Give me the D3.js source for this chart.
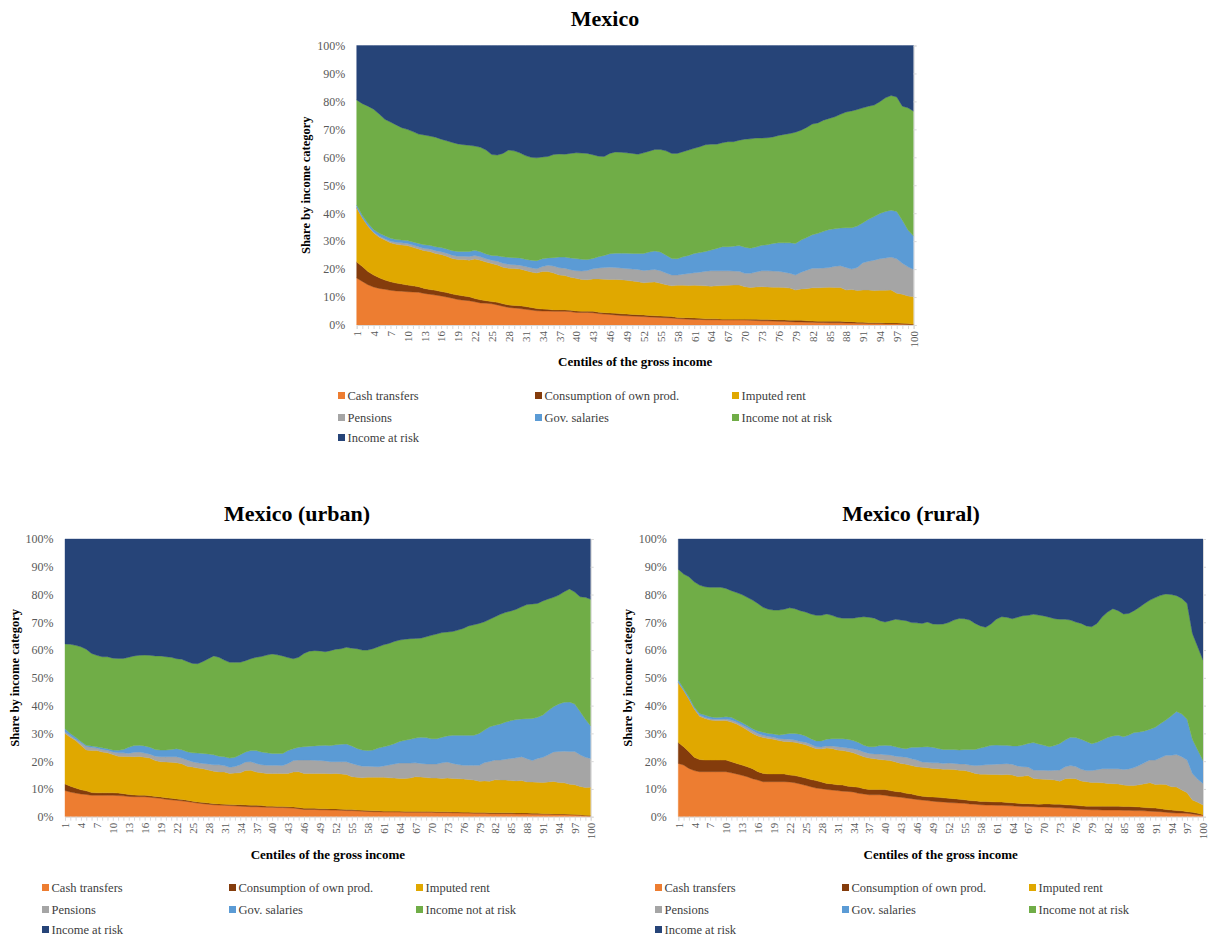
<!DOCTYPE html>
<html><head><meta charset="utf-8">
<script src="https://cdn.jsdelivr.net/npm/d3@7"></script>
<style>
body{margin:0;background:#fff;}
svg text{font-family:"Liberation Serif","Times New Roman",serif;}
</style></head><body>
<svg id="chart" width="1217" height="939"></svg>
<script>
// ---------- categories / labels ----------
const centiles = d3.range(1, 101);
const tickLabelCentiles = centiles.filter(c => (c - 1) % 3 === 0);
const seriesNames = ["Cash transfers","Consumption of own prod.","Imputed rent","Pensions","Gov. salaries","Income not at risk","Income at risk"];
const seriesKeys = ["cash","ownProd","rent","pensions","govSal","notAtRisk","atRisk"];
const yTickValues = [0,0.1,0.2,0.3,0.4,0.5,0.6,0.7,0.8,0.9,1];
const chartTitles = ["Mexico","Mexico (urban)","Mexico (rural)"];

// ---------- Mexico (national) ----------
const mxCash = [16.8,15.6,14.4,13.6,13.1,12.8,12.4,12.2,12.1,11.9,11.8,11.7,11.3,11.0,10.7,10.4,10.0,9.6,9.1,8.9,8.7,8.3,7.9,7.8,7.6,7.2,6.7,6.3,6.1,5.9,5.6,5.4,5.1,5.0,5.0,4.9,4.9,4.9,4.8,4.5,4.5,4.5,4.4,4.1,3.9,3.8,3.6,3.4,3.3,3.2,3.1,3.0,2.9,2.8,2.7,2.6,2.5,2.3,2.2,2.1,2.0,2.0,1.9,1.9,1.9,1.8,1.8,1.8,1.8,1.8,1.7,1.6,1.5,1.5,1.4,1.3,1.3,1.2,1.1,1.1,1.0,1.0,0.9,0.9,0.8,0.8,0.8,0.7,0.7,0.6,0.6,0.5,0.5,0.5,0.4,0.4,0.4,0.3,0.2,0.1];
const mxOwnProd = [5.7,5.3,4.7,4.3,3.8,3.3,3.1,2.8,2.6,2.4,2.2,2.0,1.8,1.7,1.7,1.6,1.6,1.5,1.6,1.5,1.4,1.2,1.1,0.9,0.8,0.9,0.9,0.9,0.9,1.0,1.0,0.9,0.8,0.7,0.6,0.5,0.5,0.5,0.5,0.5,0.4,0.4,0.5,0.5,0.5,0.5,0.6,0.6,0.6,0.6,0.6,0.6,0.5,0.5,0.5,0.5,0.5,0.4,0.4,0.5,0.5,0.4,0.3,0.3,0.3,0.3,0.3,0.3,0.3,0.3,0.4,0.5,0.5,0.5,0.5,0.5,0.5,0.5,0.6,0.6,0.5,0.4,0.4,0.4,0.5,0.5,0.5,0.5,0.5,0.4,0.4,0.3,0.3,0.3,0.3,0.3,0.3,0.3,0.3,0.2];
const mxRent = [19.4,17.4,16.2,15.1,14.5,14.3,13.9,13.9,13.9,14.1,13.8,13.5,13.5,13.6,13.2,13.2,13.0,12.7,12.7,13.0,13.1,14.1,14.2,13.8,13.6,13.4,13.1,13.1,13.2,13.1,12.9,12.7,12.7,13.4,13.5,13.2,12.5,12.3,11.8,11.7,11.4,11.3,11.6,11.9,12.0,12.0,12.1,12.2,12.1,11.9,11.8,11.5,11.9,12.1,11.7,11.3,11.0,11.5,11.6,11.5,11.7,11.7,11.8,11.7,11.8,12.0,12.1,12.2,12.2,11.6,11.3,11.5,11.7,11.6,11.6,11.7,11.6,11.5,10.8,11.2,11.5,11.9,12.0,12.1,12.2,12.1,12.1,11.3,11.5,11.3,11.5,11.7,11.5,11.6,11.7,11.8,10.7,10.4,9.9,9.8];
const mxPensions = [0.2,0.2,0.3,0.3,0.4,0.5,0.6,0.7,0.8,0.8,0.8,0.8,0.8,0.9,1.0,1.0,1.1,1.2,1.2,1.2,1.3,1.3,1.2,1.2,1.2,1.3,1.4,1.4,1.4,1.4,1.4,1.5,1.5,1.8,2.3,2.5,2.6,2.6,2.7,2.7,3.0,3.3,3.6,3.9,4.2,4.4,4.3,4.2,4.2,4.3,4.4,4.4,4.4,4.5,4.5,4.2,3.9,3.7,4.0,4.3,4.5,4.8,5.2,5.5,5.4,5.3,5.2,5.0,4.9,4.8,5.1,5.4,5.7,5.8,5.8,5.7,5.5,5.3,5.4,6.0,6.6,7.0,7.0,7.0,7.1,7.6,7.8,8.1,7.3,8.3,9.8,10.3,10.9,11.3,11.6,11.8,12.3,11.1,10.4,9.8];
const mxGovSal = [0.8,0.8,0.8,0.9,1.0,1.0,1.0,1.0,1.0,1.0,1.1,1.2,1.3,1.3,1.4,1.5,1.5,1.6,1.7,1.7,1.8,1.8,1.8,1.7,1.7,2.0,2.3,2.5,2.5,2.6,2.6,2.7,2.9,2.8,2.6,3.0,3.8,4.0,4.2,4.4,4.2,3.9,3.7,4.0,4.3,4.8,5.1,5.3,5.5,5.6,5.7,6.1,6.4,6.6,6.7,6.4,5.9,5.8,6.2,6.5,6.9,7.0,7.1,7.4,8.0,8.6,8.6,8.9,9.2,9.3,9.0,8.9,9.1,9.3,9.9,10.2,10.5,10.9,11.3,11.5,11.7,12.0,12.5,13.1,13.6,13.4,13.5,14.2,14.8,14.8,14.3,15.0,15.6,16.2,16.6,16.8,16.9,15.4,13.2,11.9];
const mxNotAtRisk = [37.6,39.9,41.9,43.0,42.7,41.7,41.6,41.0,40.2,39.8,39.5,39.1,39.3,39.1,39.2,38.8,38.7,38.7,38.5,38.2,38.0,37.3,37.4,37.2,36.1,36.0,37.0,38.4,38.2,37.6,37.1,36.8,36.8,36.4,36.3,36.9,36.9,36.8,37.4,37.8,38.0,38.0,37.1,36.0,35.4,35.9,36.2,36.1,35.9,35.8,35.5,36.0,36.1,36.3,36.7,37.3,37.6,37.7,37.6,37.7,37.6,37.9,38.2,37.9,37.3,37.2,37.6,37.4,37.7,38.7,39.1,39.0,38.4,38.3,38.1,38.4,38.8,39.1,39.8,39.3,39.4,39.6,39.5,39.8,39.7,40.1,40.7,41.4,41.8,41.7,41.1,40.5,39.9,40.0,40.7,41.0,41.0,40.8,43.7,44.7];
const mxAtRisk = [19.5,20.8,21.7,22.8,24.5,26.4,27.4,28.4,29.4,30.0,30.8,31.7,32.0,32.4,32.8,33.5,34.1,34.7,35.2,35.5,35.7,36.0,36.4,37.4,39.0,39.2,38.6,37.4,37.7,38.4,39.4,40.0,40.2,39.9,39.7,39.0,38.8,38.9,38.6,38.4,38.5,38.6,39.1,39.6,39.7,38.6,38.1,38.2,38.4,38.6,38.9,38.4,37.8,37.2,37.2,37.7,38.6,38.6,38.0,37.4,36.8,36.2,35.5,35.3,35.3,34.8,34.4,34.4,33.9,33.5,33.4,33.1,33.1,33.0,32.7,32.2,31.8,31.5,31.0,30.3,29.3,28.1,27.7,26.7,26.1,25.5,24.6,23.8,23.4,22.9,22.3,21.7,21.3,20.1,18.7,17.9,18.4,21.7,22.3,23.5];

// ---------- Mexico (urban) ----------
const urCash = [9.4,8.9,8.5,8.2,8.0,7.7,7.7,7.7,7.7,7.7,7.6,7.5,7.3,7.2,7.2,7.2,7.0,6.8,6.6,6.3,6.1,5.9,5.7,5.5,5.2,4.9,4.7,4.5,4.3,4.2,4.1,4.0,3.9,3.8,3.7,3.6,3.6,3.5,3.4,3.4,3.3,3.3,3.2,3.1,2.9,2.6,2.6,2.6,2.5,2.5,2.4,2.4,2.3,2.2,2.2,2.1,2.0,1.9,1.8,1.8,1.7,1.7,1.7,1.7,1.6,1.6,1.6,1.6,1.6,1.6,1.5,1.5,1.5,1.4,1.4,1.3,1.3,1.2,1.2,1.2,1.1,1.1,1.1,1.1,1.1,1.0,1.0,1.0,0.9,0.9,0.9,0.9,0.8,0.8,0.8,0.7,0.6,0.5,0.3,0.2];
const urOwnProd = [2.4,2.1,1.8,1.5,1.3,1.0,0.9,0.9,0.9,0.9,0.9,0.8,0.7,0.6,0.5,0.5,0.5,0.5,0.5,0.5,0.5,0.5,0.5,0.4,0.4,0.4,0.4,0.4,0.4,0.4,0.4,0.4,0.4,0.5,0.5,0.5,0.5,0.5,0.4,0.4,0.4,0.4,0.4,0.4,0.4,0.4,0.4,0.4,0.4,0.4,0.4,0.4,0.4,0.4,0.4,0.3,0.3,0.3,0.3,0.3,0.3,0.3,0.3,0.3,0.3,0.3,0.3,0.3,0.3,0.3,0.3,0.3,0.3,0.3,0.3,0.3,0.3,0.3,0.3,0.3,0.3,0.3,0.3,0.3,0.3,0.3,0.3,0.3,0.3,0.3,0.2,0.2,0.2,0.2,0.2,0.2,0.2,0.2,0.2,0.2];
const urRent = [18.2,17.6,17.1,16.0,14.7,15.1,15.2,14.7,14.4,13.8,13.3,13.4,13.7,13.8,14.0,13.7,13.6,12.9,12.7,12.9,13.0,13.0,12.9,12.3,12.3,12.2,12.2,11.9,11.7,11.5,11.6,11.2,11.4,11.5,12.4,12.6,12.0,11.8,11.8,11.8,11.9,11.9,12.0,12.6,12.9,12.6,12.6,12.6,12.7,12.7,12.7,12.8,12.7,12.6,11.8,11.8,11.7,12.0,12.1,12.1,12.2,12.0,11.9,11.8,11.9,12.0,12.5,12.4,12.2,12.0,12.1,12.0,12.1,12.1,12.0,12.0,11.8,11.7,11.3,11.4,11.4,11.9,11.8,11.8,11.6,11.6,11.7,11.2,11.3,11.2,11.2,11.4,11.7,11.3,11.2,10.8,10.7,10.2,10.0,10.2];
const urPensions = [0.6,0.6,0.5,0.9,1.3,1.2,0.9,0.9,0.9,0.9,1.2,1.3,1.1,1.6,1.6,1.5,1.4,1.6,1.8,1.9,2.0,2.2,2.0,2.2,1.9,1.9,1.9,2.2,2.3,2.6,2.3,2.2,2.4,2.9,3.1,3.1,3.1,2.9,2.9,2.9,2.9,2.8,3.6,4.1,4.2,4.8,4.8,4.7,4.6,4.5,4.3,4.2,4.4,4.6,4.8,4.4,4.2,4.0,3.9,3.8,4.1,4.6,5.1,5.5,5.5,5.4,5.0,4.9,4.9,5.1,5.1,5.6,5.8,5.4,5.1,4.9,5.1,5.3,5.7,6.6,7.1,7.1,7.2,7.5,8.0,8.3,8.6,8.4,7.7,8.6,9.1,9.8,10.6,11.2,11.4,11.8,12.0,11.4,10.9,10.4];
const urGovSal = [1.1,0.8,0.7,0.5,0.4,0.5,0.5,0.6,0.6,0.7,0.9,1.2,2.2,2.4,2.4,2.6,2.5,2.4,2.4,2.4,2.6,2.9,3.0,3.0,3.2,3.5,3.6,3.6,3.6,3.1,3.2,3.3,3.3,3.6,3.6,4.0,4.6,4.6,4.5,4.3,4.3,4.4,4.6,4.3,4.6,4.8,5.0,5.2,5.4,5.6,5.8,6.1,6.3,6.4,6.3,6.0,5.8,5.6,5.9,6.7,6.9,7.0,7.3,7.8,8.2,8.6,8.9,9.4,9.5,9.1,9.1,9.2,9.4,10.1,10.5,10.8,10.8,10.8,11.5,11.7,12.5,12.5,13.0,13.4,13.6,13.8,13.6,14.4,15.2,14.8,15.2,15.9,16.3,17.1,17.6,17.8,17.1,15.6,13.7,11.7];
const urNotAtRisk = [30.5,32.1,33.1,34.1,34.6,33.3,32.9,32.8,33.1,33.1,33.1,32.8,32.4,32.3,32.4,32.7,33.1,33.7,33.9,33.6,33.2,32.4,32.6,32.5,32.2,32.2,33.1,34.3,35.6,35.6,34.8,34.5,34.2,33.3,32.9,33.1,33.6,34.4,35.2,35.8,35.5,35.1,33.5,32.4,32.4,33.6,34.2,34.3,34.1,33.7,34.2,34.4,34.4,34.8,35.2,35.9,36.0,36.2,36.5,36.5,36.7,36.8,36.8,36.5,36.4,36.2,35.9,35.7,36.3,37.2,37.7,37.7,37.4,37.4,37.9,38.5,39.4,39.8,39.6,39.0,38.7,39.1,39.5,39.5,39.5,39.7,40.4,41.1,41.2,41.0,41.1,40.2,39.4,39.2,39.8,40.7,40.3,41.3,43.9,45.6];
const urAtRisk = [37.8,37.9,38.3,38.8,39.7,41.2,41.9,42.4,42.4,42.9,43.0,43.0,42.6,42.1,41.9,41.8,41.9,42.1,42.1,42.4,42.6,43.1,43.3,44.1,44.8,44.9,44.1,43.1,42.1,42.6,43.6,44.4,44.4,44.4,43.8,43.1,42.6,42.3,41.8,41.4,41.7,42.1,42.7,43.1,42.6,41.2,40.4,40.2,40.3,40.6,40.2,39.7,39.5,39.0,39.3,39.5,40.0,40.0,39.5,38.8,38.1,37.6,36.9,36.4,36.1,35.9,35.8,35.7,35.2,34.7,34.2,33.7,33.5,33.3,32.8,32.2,31.3,30.9,30.4,29.8,28.9,28.0,27.1,26.4,25.9,25.3,24.4,23.6,23.4,23.2,22.3,21.6,21.0,20.2,19.0,18.0,19.1,20.8,21.0,21.7];

// ---------- Mexico (rural) ----------
const ruCash = [19.2,18.6,17.4,16.6,16.2,16.2,16.2,16.2,16.2,16.2,15.8,15.4,14.9,14.4,13.7,13.2,12.6,12.6,12.6,12.6,12.6,12.5,12.2,11.8,11.3,10.8,10.3,10.1,9.8,9.6,9.4,9.2,9.1,8.9,8.4,8.2,7.9,7.9,7.9,7.7,7.4,7.2,7.0,6.7,6.5,6.2,6.0,5.8,5.6,5.4,5.3,5.1,5.0,4.9,4.8,4.6,4.5,4.3,4.2,4.2,4.1,4.1,4.0,3.9,3.8,3.7,3.7,3.6,3.5,3.5,3.4,3.3,3.3,3.1,3.0,2.9,2.7,2.6,2.5,2.5,2.4,2.4,2.4,2.4,2.3,2.3,2.2,2.2,2.1,2.0,1.9,1.8,1.6,1.4,1.3,1.3,1.2,1.0,0.7,0.5];
const ruOwnProd = [7.5,6.6,6.0,4.8,4.4,4.2,4.2,4.2,4.2,4.2,4.0,3.8,3.7,3.6,3.6,3.0,3.0,2.8,2.8,2.8,2.8,2.5,2.6,2.6,2.6,2.6,2.7,2.4,2.2,2.2,2.1,2.2,1.9,1.9,2.2,1.9,1.9,1.9,1.9,2.1,2.0,1.9,1.9,1.7,1.7,1.5,1.4,1.4,1.5,1.6,1.5,1.5,1.5,1.4,1.3,1.2,1.2,1.2,1.3,1.2,1.2,1.2,1.1,1.1,1.0,1.0,1.0,1.0,1.0,1.1,1.2,1.2,1.2,1.2,1.2,1.2,1.2,1.2,1.3,1.3,1.4,1.4,1.4,1.4,1.4,1.4,1.4,1.3,1.2,1.2,1.2,1.1,1.0,1.0,0.9,0.8,0.6,0.6,0.5,0.2];
const ruRent = [21.5,20.2,18.9,17.4,15.6,15.0,14.4,14.2,14.2,14.2,14.3,14.2,13.8,13.2,12.7,12.9,12.9,12.8,12.5,12.0,11.7,12.0,12.0,12.0,12.0,11.8,11.5,11.9,12.7,12.8,12.5,12.4,12.5,12.2,11.7,11.5,11.3,11.1,10.8,10.6,10.8,10.6,10.3,10.5,10.2,10.3,10.4,10.4,10.3,10.3,10.3,10.5,10.5,10.4,10.5,10.4,9.9,9.8,9.8,9.8,9.9,9.8,10.1,10.0,9.7,9.9,10.1,9.2,9.1,8.9,8.8,8.7,8.3,9.4,9.6,9.6,9.0,8.8,8.5,8.5,8.4,8.2,8.1,8.0,7.7,7.5,7.6,8.0,8.6,9.0,8.5,8.8,9.0,8.4,8.5,7.5,6.8,4.4,4.0,3.5];
const ruPensions = [0.2,0.2,0.3,0.3,0.4,0.4,0.5,0.5,0.5,0.6,0.7,0.7,0.7,0.9,1.0,0.9,0.8,0.7,0.7,0.7,0.9,0.9,0.8,0.7,0.9,0.9,0.7,0.7,0.8,0.9,1.2,1.2,1.2,1.5,1.7,1.7,1.7,1.7,2.0,1.9,2.0,2.1,2.4,2.5,2.5,2.4,1.9,2.0,2.0,2.1,2.1,2.2,2.2,2.3,2.4,2.4,2.8,3.2,3.4,3.6,3.7,3.9,3.9,3.9,3.8,3.4,3.1,3.0,3.1,3.2,3.2,3.5,4.0,4.3,4.6,4.4,4.2,4.0,4.3,4.6,5.1,5.3,5.4,5.5,5.6,6.0,6.5,7.0,7.6,8.2,8.8,9.5,10.5,11.3,11.7,12.0,11.8,9.6,8.3,7.8];
const ruGovSal = [0.8,0.6,0.6,0.5,0.6,0.8,0.7,0.6,0.7,0.8,1.0,0.7,0.8,0.7,0.7,0.9,1.1,1.1,1.2,1.3,1.7,2.1,2.4,2.6,2.3,2.0,2.1,2.2,2.4,2.6,2.9,3.1,3.2,2.9,2.7,2.4,2.4,2.6,3.0,3.4,3.4,3.4,3.1,3.1,4.1,4.6,5.4,5.6,5.6,5.2,5.0,4.9,5.0,5.0,5.2,5.6,5.8,6.2,6.5,6.9,6.9,6.7,6.6,6.6,7.2,7.8,8.5,9.9,9.5,9.0,8.6,8.9,9.6,9.6,10.2,10.4,10.8,10.5,9.7,9.9,10.3,11.2,11.8,12.0,11.8,12.2,12.6,12.0,11.4,11.1,11.8,12.4,12.7,14.2,15.5,15.4,14.7,12.3,10.5,8.2];
const ruNotAtRisk = [39.9,41.2,43.2,45.0,46.2,46.2,46.6,46.9,46.8,46.2,45.6,45.9,46.1,46.2,46.3,45.9,45.0,44.7,44.6,45.0,45.0,45.2,44.9,44.5,44.6,44.9,45.2,45.2,45.1,44.4,43.7,43.4,43.6,44.1,45.1,46.3,46.6,46.3,45.0,44.4,45.0,45.9,46.1,46.1,44.9,44.8,44.5,44.9,44.4,44.7,45.2,45.7,46.6,47.4,47.1,46.6,45.4,44.0,43.0,43.7,45.3,46.3,46.1,45.8,46.3,46.6,46.1,46.2,46.4,46.6,46.6,45.7,44.7,43.5,42.2,41.6,41.7,41.6,42.1,42.8,44.4,45.2,45.8,44.9,44.2,43.8,43.9,44.9,45.9,46.5,46.7,46.1,45.4,43.7,41.7,41.6,41.7,38.1,37.2,36.2];
const ruAtRisk = [10.9,12.6,13.6,15.4,16.6,17.2,17.4,17.4,17.4,17.8,18.6,19.3,20.0,21.0,22.0,23.2,24.6,25.3,25.6,25.6,25.3,24.8,25.1,25.8,26.3,27.0,27.5,27.5,27.0,27.5,28.2,28.5,28.5,28.5,28.2,28.0,28.2,28.5,29.4,29.9,29.4,28.9,29.2,29.4,30.1,30.2,30.4,29.9,30.6,30.7,30.6,30.1,29.2,28.6,28.7,29.2,30.4,31.3,31.8,30.6,28.9,28.0,28.2,28.7,28.2,27.6,27.5,27.1,27.4,27.7,28.2,28.7,28.9,28.9,29.2,29.9,30.4,31.3,31.6,30.4,28.0,26.3,25.1,25.8,27.0,26.8,25.8,24.6,23.2,22.0,21.1,20.3,19.8,20.0,20.4,21.4,23.2,34.0,38.8,43.6];

// ---------- styling & layout ----------
const colors = ["#ED7D31","#843C0C","#E0A800","#A5A5A5","#5B9BD5","#70AD47","#264478"];
const layouts = [
  {x0:356.7, x1:913.6, y0:45.5, y1:325, titleX:605, titleY:26, yTitleX:306, xTitleY:366, legCols:[338,535,732], legRows:[395.5,417.5,437.5]},
  {x0:65, x1:590.7, y0:539, y1:816.7, titleX:297, titleY:521, yTitleX:15, xTitleY:859, legCols:[42,229,416], legRows:[887.5,909.5,929.5]},
  {x0:678.3, x1:1203, y0:539, y1:816.7, titleX:911, titleY:521, yTitleX:628, xTitleY:859, legCols:[655,842,1029], legRows:[887.5,909.5,929.5]}
];
const chartSeries = [
  [mxCash,mxOwnProd,mxRent,mxPensions,mxGovSal,mxNotAtRisk,mxAtRisk],
  [urCash,urOwnProd,urRent,urPensions,urGovSal,urNotAtRisk,urAtRisk],
  [ruCash,ruOwnProd,ruRent,ruPensions,ruGovSal,ruNotAtRisk,ruAtRisk]
];

const svg = d3.select("#chart");
svg.append("rect").attr("width",1217).attr("height",939).attr("fill","#fff");

function drawChart(title, series, L){
  const rows = centiles.map((c,i) => {
    const r = {centile:c};
    seriesKeys.forEach((k,j) => r[k] = series[j][i]);
    return r;
  });
  const layers = d3.stack().keys(seriesKeys).offset(d3.stackOffsetExpand)(rows);
  const x = d3.scalePoint().domain(centiles).range([L.x0, L.x1]);
  const y = d3.scaleLinear().domain([0,1]).range([L.y1, L.y0]);
  const area = d3.area().x(d => x(d.data.centile)).y0(d => y(d[0])).y1(d => y(d[1]));
  const g = svg.append("g");

  g.selectAll("path.layer").data(layers).join("path")
    .attr("class","layer").attr("d", area)
    .attr("fill", (d,i) => colors[i])
    .attr("stroke", (d,i) => colors[i]).attr("stroke-width", 0.4);

  // right border with small ticks
  const rAxis = g.append("g").attr("transform", `translate(${L.x1},0)`)
    .call(d3.axisRight(y).tickValues(yTickValues).tickSize(3).tickFormat(""));
  rAxis.selectAll("line,path").attr("stroke","#D9D9D9");

  // y axis labels
  const yAxis = g.append("g").attr("transform", `translate(${L.x0},0)`)
    .call(d3.axisLeft(y).tickValues(yTickValues).tickFormat(d3.format(".0%")).tickSize(0).tickPadding(11.5));
  yAxis.select(".domain").remove();
  yAxis.selectAll("text").attr("font-size","12px").attr("fill","#595959")
    .style("font-family","'Liberation Serif',serif");

  // x axis ticks at every centile
  const xTicks = g.append("g").attr("transform", `translate(0,${L.y1})`)
    .call(d3.axisBottom(x).tickValues(centiles).tickSize(4).tickFormat(""));
  xTicks.selectAll("line,path").attr("stroke","#D9D9D9");

  // x labels every 3rd centile, rotated
  const xLab = g.append("g").attr("transform", `translate(0,${L.y1})`)
    .call(d3.axisBottom(x).tickValues(tickLabelCentiles).tickSize(0).tickFormat(d3.format("d")));
  xLab.select(".domain").remove();
  xLab.selectAll("text")
    .attr("font-size","11px").attr("fill","#595959")
    .style("font-family","'Liberation Serif',serif")
    .attr("text-anchor","end")
    .attr("transform","rotate(-90)")
    .attr("x",-6).attr("y",0).attr("dy","0.35em");

  // titles
  g.append("text").attr("x",L.titleX).attr("y",L.titleY).attr("text-anchor","middle")
    .attr("font-size","22px").attr("font-weight","bold").attr("fill","#000").text(title);
  g.append("text").attr("transform",`translate(${L.yTitleX},${(L.y0+L.y1)/2}) rotate(-90)`)
    .attr("text-anchor","middle").attr("dy","0.35em")
    .attr("font-size","12.5px").attr("font-weight","bold").attr("fill","#000").text("Share by income category");
  g.append("text").attr("x",(L.x0+L.x1)/2).attr("y",L.xTitleY).attr("text-anchor","middle")
    .attr("font-size","13px").attr("font-weight","bold").attr("fill","#000").text("Centiles of the gross income");

  // legend
  const leg = g.append("g");
  seriesNames.forEach((name,i) => {
    const cx = L.legCols[i % 3], cy = L.legRows[Math.floor(i / 3)];
    leg.append("rect").attr("x",cx).attr("y",cy-3.5).attr("width",7).attr("height",7).attr("fill",colors[i]);
    leg.append("text").attr("x",cx+9.5).attr("y",cy).attr("dy","0.35em")
      .attr("font-size","12.5px").attr("fill","#404040").text(name);
  });
}

chartTitles.forEach((t,i) => drawChart(t, chartSeries[i], layouts[i]));
</script>
</body></html>
